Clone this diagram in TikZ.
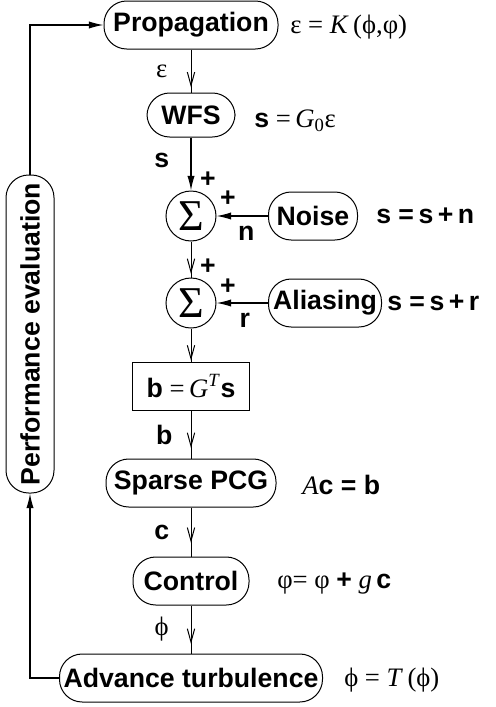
\documentclass[tikz,border=0pt]{standalone}
\usepackage{fontspec}
\setmainfont{Liberation Serif}
\setsansfont{Liberation Sans}
\usetikzlibrary{positioning, arrows.meta, calc, decorations.markings}

\newcommand{\vb}[1]{\textsf{\bfseries #1}}

\tikzset{
  block/.style={draw, line width=0.75pt, rounded corners=17pt, minimum height=36pt, inner sep=0pt, font=\sffamily\bfseries\fontsize{20}{23}\selectfont},
  sqblock/.style={draw, line width=0.75pt, minimum height=36pt, inner sep=0pt, font=\fontsize{20}{23}\selectfont},
  summer/.style={draw, circle, line width=0.75pt, minimum size=37.5pt, inner sep=0pt, font=\fontsize{33}{35}\selectfont},
  eqn/.style={anchor=west, inner sep=0pt, font=\fontsize{20}{23}\selectfont},
  lbl/.style={inner sep=0pt, font=\fontsize{20}{23}\selectfont},
  flow/.style={line width=0.75pt, postaction={decorate}, decoration={markings, mark=at position #1 with {\arrow{Straight Barb[length=10pt,width=5.5pt,line width=0.75pt]}}}},
  flow/.default=0.85,
  feed/.style={line width=1pt, -{Latex[length=11pt,width=5.5pt]}},
}

\begin{document}
\begin{tikzpicture}[x=0.75pt, y=-0.75pt]
\useasboundingbox (0,0) rectangle (496,707);
% main chain
\node[block, minimum width=130.5pt] (prop) at (191,25) {Propagation};
\node[eqn] (eqprop) at (290,27) {ε = \textit{K}\,(ϕ,φ)};
\node[block, minimum width=66pt, minimum height=33pt] (wfs) at (191,115) {WFS};
\node[eqn] (eqwfs) at (254,121) {\vb{s} =\,\textit{G}\textsubscript{0}ε};
\node[summer] (sum1) at (191,216) {Σ};
\node[block, minimum width=66.75pt] (noise) at (313,216) {Noise};
\node[eqn] (eqnoise) at (376,216) {\vb{s =\,s\,+\,n}};
\node[summer] (sum2) at (191,303) {Σ};
\node[block, minimum width=84.75pt] (alias) at (325,303) {Aliasing};
\node[eqn] (eqalias) at (387,303) {\vb{s =\,s\,+\,r}};
\node[sqblock, minimum width=87.75pt] (proj) at (191,386) {\vb{b} =\,\textit{G}\textsuperscript{\textit{T}}\vb{s}};
\node[block, minimum width=127.5pt] (pcg) at (191,483) {Sparse PCG};
\node[eqn] (eqpcg) at (302,485) {\textit{A}\vb{c = b}};
\node[block, minimum width=87pt] (ctrl) at (191,581) {Control};
\node[eqn] (eqctrl) at (277,584) {φ= φ \vb{+} \textit{g}\,\vb{c}};
\node[block, minimum width=197.25pt] (adv) at (191,678) {Advance turbulence};
\node[eqn] (eqadv) at (344,680) {ϕ = \textit{T}\,(ϕ)};
% feedback
\node[block, rotate=90, minimum width=238.5pt] (perf) at (30,334) {Performance evaluation};
% signs
\node[lbl] (pa) at (208,180) {\vb{+}};
\node[lbl] (pb) at (228,199) {\vb{+}};
\node[lbl] (pc) at (208,267) {\vb{+}};
\node[lbl] (pd) at (228,287) {\vb{+}};

\draw[flow=0.88] (prop) -- node[lbl, xshift=-22pt] {ε} (wfs);
\draw[feed] (wfs) -- node[lbl, xshift=-22pt, yshift=3pt] {\vb{s}} (sum1);
\draw[feed] (noise) -- node[lbl, xshift=3pt, yshift=-13pt] {\vb{n}} (sum1);
\draw[flow=0.9] (sum1) -- (sum2);
\draw[feed] (alias) -- node[lbl, xshift=2pt, yshift=-13pt] {\vb{r}} (sum2);
\draw[flow=0.97] (sum2) -- (proj);
\draw[flow=0.78] (proj) -- node[lbl, xshift=-20pt] {\vb{b}} (pcg);
\draw[flow=0.72] (pcg) -- node[lbl, xshift=-22pt] {\vb{c}} (ctrl);
\draw[flow=0.8] (ctrl) -- node[lbl, xshift=-22pt] {ϕ} (adv);
\draw[feed] (adv) -| (perf.west);
\draw[feed] (perf.east) |- (prop);
\end{tikzpicture}
\end{document}
